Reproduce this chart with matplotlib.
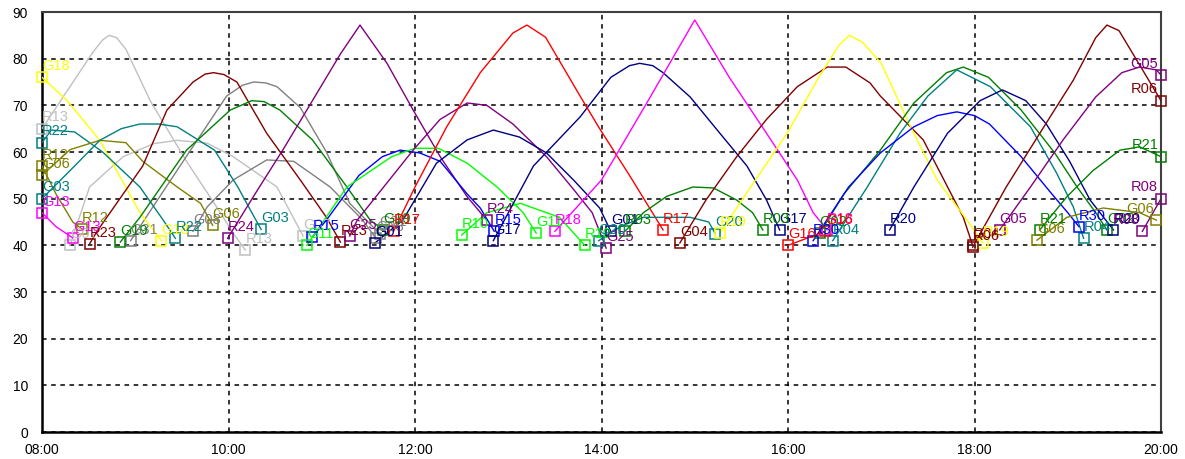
import numpy as np
import matplotlib.pyplot as plt
from matplotlib.ticker import FuncFormatter, MultipleLocator

plt.rcParams['font.family'] = ['Liberation Sans', 'DejaVu Sans']

# elevation (deg) vs local time (hours) for each satellite pass
G18_t = [8.0, 8.27, 8.62, 9.05, 9.28]
G18_el = [76, 71, 62.5, 47, 41]
R13_t = [8.0, 8.3, 8.55, 8.65, 8.72, 8.8, 8.9, 9.16, 9.55, 9.88, 10.05, 10.18]
R13_el = [65, 74, 81.5, 84, 85, 84.5, 82, 71, 58, 48, 42.6, 39]
R22_t = [8.0, 8.1, 8.35, 8.65, 9.05, 9.3, 9.43]
R22_el = [62, 64.7, 64.3, 60, 52.5, 45.4, 41.5]
G06_t = [8.0, 8.3, 8.62, 8.9, 9.08, 9.45, 9.7, 9.83]
G06_el = [55, 60.5, 62.5, 62, 58, 52.5, 49, 44.3]
R12_t = [8.0, 8.15, 8.33, 8.43]
R12_el = [57, 51, 45, 43.5]
G13_t = [8.0, 8.15, 8.33]
G13_el = [47, 44, 41.6]
G03_t = [8.0, 8.3, 8.62, 8.85, 9.05, 9.25, 9.45, 9.85, 10.1, 10.25, 10.35]
G03_el = [50, 56, 62.5, 65, 66, 66, 65.4, 60.4, 52.5, 47, 43.4]
G07_t = [8.3, 8.51, 8.87, 9.2, 9.45, 9.77, 10.05, 10.52, 10.8]
G07_el = [40, 52.5, 59, 61.8, 62.5, 61.9, 59, 52.5, 42]
R23_t = [8.51, 8.59, 9.08, 9.34, 9.62, 9.75, 9.84, 9.95, 10.09, 10.41, 10.77, 11.05, 11.2]
R23_el = [40.3, 43, 57, 69, 75, 76.7, 77, 76.6, 75, 64, 54, 46, 40.7]
G19_t = [8.84, 9.05, 9.55, 10.02, 10.25, 10.38, 10.55, 10.9, 11.27, 11.52, 11.66]
G19_el = [40.7, 46, 60.4, 69, 71, 70.8, 69, 62.6, 52.5, 45.4, 43.3]
G31_t = [8.95, 9.48, 9.98, 10.15, 10.27, 10.4, 10.52, 10.77, 11.05, 11.3, 11.62]
G31_el = [41, 57, 72, 74.3, 75, 74.8, 74, 69.5, 60, 49, 42.5]
G08_t = [9.62, 9.77, 10.05, 10.41, 10.7, 11.09, 11.44, 11.58]
G08_el = [43, 48.2, 54, 58.3, 58, 52.5, 45.4, 41.5]
R24_t = [9.99, 10.3, 10.6, 10.9, 11.2, 11.41, 11.7, 11.98, 12.27, 12.56, 12.77]
R24_el = [41.5, 51.5, 61, 71, 81, 87.2, 79, 69, 59, 50.4, 45.4]
R15_t = [10.9, 11.05, 11.4, 11.65, 11.84, 12.05, 12.27, 12.56, 12.7, 12.85]
R15_el = [41.8, 45.4, 55, 59, 60.4, 59.8, 58, 51, 48, 43]
G11_t = [10.84, 11.27, 11.75, 12.0, 12.25, 12.56, 12.88, 13.16, 13.3]
G11_el = [40, 52.5, 59, 60.8, 60.8, 57.6, 52.5, 47, 42.6]
R10_t = [12.5, 12.77, 13.13, 13.55, 13.82]
R10_el = [42.2, 47, 49, 46, 40]
G25_t = [11.3, 11.38, 11.98, 12.27, 12.56, 12.77, 13.05, 13.41, 13.7, 13.9, 14.05]
G25_el = [42, 45.4, 60.4, 67, 70.5, 70, 66, 59, 52, 47, 39.4]
G01_t = [11.57, 11.87, 12.23, 12.56, 12.84, 13.12, 13.41, 13.7, 13.98, 14.1]
G01_el = [40.5, 45.4, 57.6, 62.6, 64.7, 63.2, 59.8, 54, 48, 43]
G17_t = [12.84, 13.27, 13.77, 14.1, 14.3, 14.41, 14.55, 14.66, 14.95, 15.27, 15.56, 15.77, 15.91]
G17_el = [41, 57, 67.5, 76, 78.5, 79, 78.5, 77, 71.8, 64, 57, 49.7, 43.3]
R17_t = [11.77, 12.0, 12.34, 12.7, 13.05, 13.2, 13.4, 13.77, 13.98, 14.3, 14.66]
R17_el = [43, 52.5, 65.4, 77, 85.5, 87.2, 84.6, 72, 65, 55, 43.3]
R18_t = [13.5, 14.0, 14.5, 15.0, 15.37, 15.77, 16.1, 16.27, 16.42]
R18_el = [43, 54, 71, 88.3, 76, 64, 54, 47, 43.3]
R03_t = [14.25, 14.45, 14.7, 14.98, 15.2, 15.45, 15.62, 15.73]
R03_el = [43, 47, 50.5, 52.5, 52.3, 49.7, 47, 43.3]
G20_t = [13.97, 14.2, 14.45, 14.95, 15.15, 15.22]
G20_el = [41, 44, 46, 46, 45, 42.5]
G04_t = [14.84, 15.12, 15.45, 15.77, 16.1, 16.42, 16.62, 16.88, 16.99, 17.45, 17.88, 17.98]
G04_el = [40.5, 49.7, 59, 67, 74, 78.2, 78.2, 74.8, 72, 62.6, 46, 40]
R19_t = [15.27, 15.6, 15.99, 16.33, 16.55, 16.66, 16.8, 17.0, 17.3, 17.6, 17.92, 18.09]
R19_el = [42.6, 52.5, 64, 76, 83, 85, 83.5, 79, 66, 54, 45.4, 40.5]
G02_t = [16.34, 16.6, 16.99, 17.35, 17.7, 17.88, 18.15, 18.5, 18.86, 19.1, 19.3, 19.42]
G02_el = [42.6, 51, 60.4, 70.5, 77, 78.2, 76, 69, 59.8, 52.5, 47, 43.3]
R04_t = [16.48, 16.85, 17.2, 17.5, 17.81, 18.17, 18.6, 18.88, 19.06, 19.17]
R04_el = [41, 52.5, 64, 72, 77.6, 74, 65.4, 55.5, 48.2, 41.5]
R30_t = [16.27, 16.65, 16.99, 17.35, 17.6, 17.81, 18.0, 18.16, 18.5, 18.83, 19.0, 19.12]
R30_el = [41, 52.5, 59.8, 65.4, 67.8, 68.6, 67.8, 66, 59, 51, 47, 44]
R20_t = [17.09, 17.35, 17.71, 18.06, 18.3, 18.55, 18.77, 19.02, 19.24, 19.49]
R20_el = [43.3, 52.5, 64, 71, 73.3, 71, 66, 58, 49.7, 43.3]
R06_t = [17.98, 18.34, 18.7, 19.06, 19.3, 19.42, 19.55, 19.7, 19.85, 20.0]
R06_el = [39.6, 52.5, 64, 75.4, 84.5, 87.2, 86, 81, 76, 71]
G05_t = [18.27, 18.6, 18.95, 19.3, 19.58, 19.77, 19.95, 20.0]
G05_el = [43.3, 52.5, 62.6, 71.8, 77, 78.2, 77.6, 76.5]
R21_t = [18.7, 18.99, 19.27, 19.56, 19.77, 20.0]
R21_el = [43.3, 50.4, 56, 60.4, 61.1, 59]
G06b_t = [18.67, 18.99, 19.38, 19.77, 19.95]
G06b_el = [41.1, 46, 48, 47, 45.4]
R08_t = [19.8, 20.0]
R08_el = [43, 50]
G16_t = [16.0, 16.2, 16.4]
G16_el = [40, 41.5, 43]

YELLOW, SILVER, GRAY = '#FFFF00', '#C0C0C0', '#808080'
MAROON, TEAL, OLIVE = '#800000', '#008080', '#808000'
GREEN, LIME, RED = '#008000', '#00FF00', '#FF0000'
BLUE, NAVY, PURPLE, FUCHSIA = '#0000FF', '#000080', '#800080', '#FF00FF'

passes = [
    ('R13', SILVER, R13_t, R13_el), ('G07', SILVER, G07_t, G07_el),
    ('G31', GRAY, G31_t, G31_el), ('G08', GRAY, G08_t, G08_el),
    ('G18', YELLOW, G18_t, G18_el), ('R22', TEAL, R22_t, R22_el),
    ('G06', OLIVE, G06_t, G06_el), ('R12', OLIVE, R12_t, R12_el),
    ('G13', FUCHSIA, G13_t, G13_el), ('G03', TEAL, G03_t, G03_el),
    ('R23', MAROON, R23_t, R23_el), ('G19', GREEN, G19_t, G19_el),
    ('R24', PURPLE, R24_t, R24_el), ('R15', BLUE, R15_t, R15_el),
    ('G11', LIME, G11_t, G11_el), ('R10', LIME, R10_t, R10_el),
    ('G25', PURPLE, G25_t, G25_el), ('G01', NAVY, G01_t, G01_el),
    ('G17', NAVY, G17_t, G17_el), ('R17', RED, R17_t, R17_el),
    ('R18', FUCHSIA, R18_t, R18_el), ('R03', GREEN, R03_t, R03_el),
    ('G20', TEAL, G20_t, G20_el), ('G04', MAROON, G04_t, G04_el),
    ('R19', YELLOW, R19_t, R19_el), ('G02', GREEN, G02_t, G02_el),
    ('R04', TEAL, R04_t, R04_el), ('R30', BLUE, R30_t, R30_el),
    ('R20', NAVY, R20_t, R20_el), ('R06', MAROON, R06_t, R06_el),
    ('G05', PURPLE, G05_t, G05_el), ('R21', GREEN, R21_t, R21_el),
    ('G06', OLIVE, G06b_t, G06b_el), ('R08', PURPLE, R08_t, R08_el),
    ('G16', RED, G16_t, G16_el),
]

W, H = 1185, 459
fig = plt.figure(figsize=(W / 100, H / 100), dpi=100)
ax = fig.add_axes([42 / W, 27 / H, (1161 - 42) / W, (432 - 12) / H])

for name, col, t, el in passes:
    ax.plot(t, el, color=col, lw=1.0, zorder=3)
    for i in (0, -1):
        ax.plot(t[i], el[i], 's', ms=7, mfc='none', mec=col, mew=1.1,
                zorder=4, clip_on=False)
        right = t[i] > 19.7
        ax.annotate(name, (t[i], el[i]), xytext=(-2 if right else 0, 3),
                    textcoords='offset points', ha='right' if right else 'left',
                    va='bottom', color=col, fontsize=10.5, zorder=5)

ax.set_xlim(8, 20)
ax.set_ylim(0, 90)
ax.xaxis.set_major_locator(MultipleLocator(2))
ax.yaxis.set_major_locator(MultipleLocator(10))
ax.xaxis.set_major_formatter(FuncFormatter(lambda v, p: '%02d:00' % int(round(v))))
ax.tick_params(length=0, labelsize=10, pad=8)
ax.tick_params(axis='y', pad=10)
ax.grid(True, color='black', linestyle=(0, (3, 3)), lw=1.1)
ax.set_axisbelow(True)
for s in ('left', 'bottom'):
    ax.spines[s].set_color('black')
    ax.spines[s].set_linewidth(1.8)
for s in ('top', 'right'):
    ax.spines[s].set_color('#404040')
    ax.spines[s].set_linewidth(1.5)

fig.savefig('out.png', dpi=100)
